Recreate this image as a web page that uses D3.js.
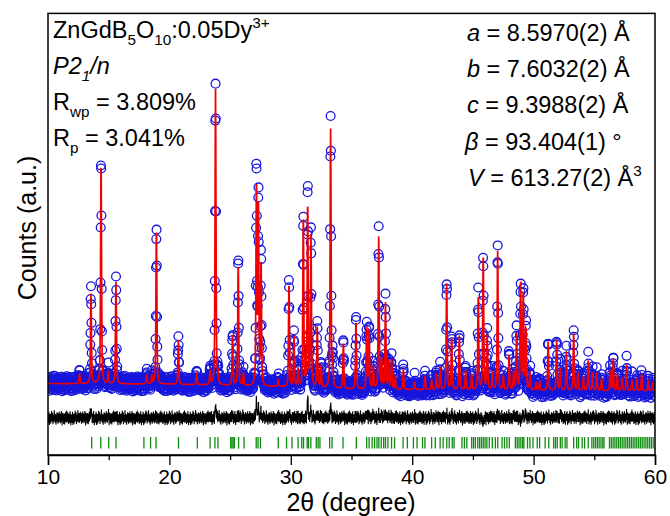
<!DOCTYPE html>
<html>
<head>
<meta charset="utf-8">
<script src="https://cdn.jsdelivr.net/npm/d3@7"></script>
<style>
    body { margin: 0; background: #fff; }
    svg { display: block; font-family: "Liberation Sans", Arial, sans-serif; }
</style>
</head>
<body>
<svg id="chart" width="670" height="516"></svg>
<script>
const peakPos = [12.6, 13.54, 14.37, 14.97, 15.6, 18.13, 18.55, 18.93, 20.74, 22.25, 23.35, 23.8, 24.0,
    25.2, 25.67, 26.1, 27.17, 27.33, 27.55, 28.97, 29.85, 30.26, 30.6, 31.03, 31.39, 31.66, 32.18, 32.5,
    33.28, 33.45, 34.33, 35.37, 36.25, 36.45, 36.8, 37.24, 37.5, 37.8, 38.05, 38.3, 38.6, 39.27, 40.2,
    41.05, 41.6, 42.0, 42.3, 42.84, 43.25, 43.88, 44.4, 44.9, 45.44, 45.85, 46.18, 46.6, 47.04, 47.5,
    47.98, 48.35, 48.6, 48.93, 49.15, 49.37, 49.7, 50.2, 50.5, 51.2, 51.9, 52.2, 52.7, 53.3, 53.65, 54.1,
    54.5, 54.85, 55.2, 55.6, 56.3, 56.56, 56.9, 57.3, 57.66, 58.1, 58.5, 58.9, 59.45, 59.8]
const peakObs = [300, 2425, 5625, 350, 2625, 250, 200, 3975, 1150, 325, 400, 7675, 300,
    1300, 3150, 350, 5475, 4750, 3250, 200, 2700, 1300, 500, 4250, 5125, 3925, 1600, 625,
    6825, 750, 1200, 1775, 1650, 1600, 625, 3900, 750, 2275, 750, 800, 375, 550, 250,
    400, 300, 450, 600, 2750, 1400, 1400, 525, 450, 2350, 3250, 1425, 500, 3625, 375,
    925, 500, 1475, 2675, 2525, 1650, 500, 225, 250, 1275, 1325, 625, 1025, 1475, 500, 375,
    800, 500, 475, 350, 550, 850, 450, 350, 700, 300, 350, 450, 300, 250]
const peakCalc = [250, 2250, 5600, 300, 2550, 225, 200, 3925, 1100, 300, 350, 7400, 250,
    1250, 3050, 300, 5050, 4525, 3100, 175, 2600, 1250, 450, 4300, 4600, 3750, 1500, 550,
    6475, 700, 1150, 1700, 1550, 1500, 550, 3800, 700, 2150, 700, 750, 350, 500, 200,
    350, 250, 400, 550, 2650, 1300, 1350, 500, 400, 2300, 3400, 1375, 450, 3475, 350,
    875, 450, 1400, 2725, 2450, 1550, 450, 200, 225, 1225, 1250, 550, 975, 1425, 450, 350,
    750, 450, 450, 325, 500, 800, 400, 325, 650, 275, 325, 425, 275, 225]

// background level along 2θ
const bgPos = [10, 20, 30, 35, 45, 60]
const bgCounts = [990, 975, 900, 850, 825, 800]

// Bragg reflection marks
const braggPos = [13.6, 14.35, 15.0, 15.6, 17.9, 18.45, 18.9, 20.75, 22.3, 23.35, 23.75, 24.0,
    25.05, 25.15, 25.25, 25.35, 25.7, 26.15, 27.15, 27.3, 27.5, 28.97, 29.65, 30.1, 30.6, 30.9,
    31.05, 31.35, 31.45, 31.65, 32.1, 32.25, 32.4, 33.2, 33.4, 34.3, 35.4, 36.25, 36.45, 36.7,
    36.9, 37.1, 37.25, 37.45, 37.65, 37.8, 38.0, 38.3, 38.55, 39.25, 39.6, 40.1, 40.4, 40.85,
    41.05, 41.6, 41.9, 42.3, 42.55, 42.85, 43.05, 43.3, 43.45, 44.1, 44.3, 44.5, 44.9, 45.05,
    45.2, 45.4, 45.55, 45.7, 45.85, 46.0, 46.15, 46.35, 46.6, 46.85, 47.05, 47.4, 47.6, 47.8,
    48.0, 48.5, 48.65, 48.8, 48.95, 49.1, 49.2, 49.5, 49.7, 49.95, 50.3, 50.5, 50.95, 51.25,
    51.65, 51.8, 51.95, 52.2, 52.35, 52.6, 52.75, 53.3, 53.55, 53.7, 54.0, 54.2, 54.5, 54.8,
    54.95, 55.1, 55.25, 55.4, 55.55, 55.7, 55.8, 56.25, 56.4, 56.55, 56.7, 56.85, 57.0, 57.15,
    57.3, 57.45, 57.6, 57.75, 57.9, 58.05, 58.2, 58.35, 58.5, 58.65, 58.8, 58.95, 59.1, 59.25,
    59.4, 59.55, 59.7, 59.85]

const noiseCounts = [-40, 85, -120, 30, 150, -60, -180, 20, 95, -15, 60, -140, 110, -30, -90, 175,
    -5, -70, 40, 130, -160, 10, 70, -110, 55, -20, 190, -85, -45, 100, -130, 25, 80, -175, 65, 5,
    -95, 140, -25, -65, 120, -150, 35, 90, -10, -115, 160, -50, 15, -80, 105, -135, 50, 0, -100,
    170, -35, 75, -190, 45, 125, -55, -20, 85, -145, 30, 115, -75, 10, -165, 95, 60, -40, 145,
    -105, 20, -60, 180, -120, 40, 5, -90, 135, -30, 70, -155, 55, 100, -70, 15, -125, 165, -15,
    45, -185, 80, -50]

const majorTicks = [10, 20, 30, 40, 50, 60]
const minorTicks = [15, 25, 35, 45, 55]

const step = 0.02, fwhm = 0.09, eta = 0.5
const diffOffset = 130, braggTop = -350, braggBottom = -640

const margin = { left: 48, right: 655, top: 13.4, bottom: 455 }
const svg = d3.select("#chart")

const x = d3.scaleLinear().domain([10, 60]).range([margin.left, margin.right])
const y = d3.scaleLinear().domain([-800, 10250]).range([margin.bottom, margin.top])
const background = d3.scaleLinear().domain(bgPos).range(bgCounts)

// pseudo-Voigt peaks on top of the background
const profile = function (t, heights) {
    let v = background(t)
    peakPos.forEach((p, k) => {
        const d = t - p
        if (Math.abs(d) > 2) return
        const q = 4 * d * d / (fwhm * fwhm)
        v += heights[k] * (eta / (1 + q) + (1 - eta) * Math.exp(-Math.LN2 * q))
    })
    return v
}

const points = d3.range(0, Math.round(50 / step) + 1).map(i => {
    const t = 10 + i * step
    const calc = profile(t, peakCalc)
    const obs = profile(t, peakObs) + noiseCounts[i % noiseCounts.length]
    return { t, obs, calc, diff: obs - calc + diffOffset }
})

svg.append("clipPath").attr("id", "plot-clip")
    .append("rect")
    .attr("x", margin.left).attr("y", margin.top)
    .attr("width", margin.right - margin.left).attr("height", margin.bottom - margin.top)

const plot = svg.append("g").attr("clip-path", "url(#plot-clip)")

// observed
plot.append("g")
    .selectAll("circle")
    .data(points)
    .join("circle")
    .attr("cx", d => x(d.t))
    .attr("cy", d => y(d.obs))
    .attr("r", 4.4)
    .attr("fill", "none")
    .attr("stroke", "#1616dc")
    .attr("stroke-width", 1.3)

// calculated
plot.append("path")
    .datum(points)
    .attr("fill", "none")
    .attr("stroke", "#f00000")
    .attr("stroke-width", 1.7)
    .attr("d", d3.line().x(d => x(d.t)).y(d => y(d.calc)))

// difference
plot.append("path")
    .datum(points)
    .attr("fill", "none")
    .attr("stroke", "#000")
    .attr("stroke-width", 1.1)
    .attr("d", d3.line().x(d => x(d.t)).y(d => y(d.diff)))

// Bragg positions
plot.append("g")
    .selectAll("line")
    .data(braggPos)
    .join("line")
    .attr("x1", d => x(d)).attr("x2", d => x(d))
    .attr("y1", y(braggTop)).attr("y2", y(braggBottom))
    .attr("stroke", "#108a10")
    .attr("stroke-width", 1.3)

// frame
svg.append("rect")
    .attr("x", margin.left).attr("y", margin.top)
    .attr("width", margin.right - margin.left).attr("height", margin.bottom - margin.top)
    .attr("fill", "none")
    .attr("stroke", "#000")
    .attr("stroke-width", 1.5)

// x axis
const xAxis = svg.append("g")
    .attr("transform", `translate(0,${margin.bottom})`)
    .call(d3.axisBottom(x).tickValues(majorTicks).tickSize(10).tickPadding(4).tickFormat(d3.format("d")))
xAxis.select(".domain").attr("stroke-width", 1.5)
xAxis.selectAll(".tick line").attr("stroke-width", 1.3)
xAxis.selectAll("text").attr("font-size", 21).attr("font-family", "Liberation Sans, Arial, sans-serif").attr("fill", "#000")

const minorAxis = svg.append("g")
    .attr("transform", `translate(0,${margin.bottom})`)
    .call(d3.axisBottom(x).tickValues(minorTicks).tickSize(5).tickFormat(""))
minorAxis.select(".domain").remove()
minorAxis.selectAll(".tick line").attr("stroke-width", 1.3)

svg.append("text")
    .attr("x", 351)
    .attr("y", 511)
    .attr("text-anchor", "middle")
    .attr("font-size", 25)
    .text("2θ (degree)")

svg.append("text")
    .attr("transform", "translate(36,228) rotate(-90)")
    .attr("text-anchor", "middle")
    .attr("font-size", 25)
    .text("Counts (a.u.)")

// text with sub/superscripts
const richText = function (px, py, parts, size) {
    const text = svg.append("text").attr("x", px).attr("y", py).attr("font-size", size)
    let shift = 0
    for (let part of parts) {
        const target = part.sub ? size * 0.3 : part.sup ? -size * 0.42 : 0
        text.append("tspan")
            .attr("dy", target - shift)
            .attr("font-size", part.sub || part.sup ? size * 0.65 : size)
            .attr("font-style", part.it ? "italic" : null)
            .text(part.t)
        shift = target
    }
}

richText(53, 38, [{ t: "ZnGdB" }, { t: "5", sub: true }, { t: "O" }, { t: "10", sub: true }, { t: ":0.05Dy" }, { t: "3+", sup: true }], 23.5)
richText(53, 74, [{ t: "P2", it: true }, { t: "1", sub: true, it: true }, { t: "/n", it: true }], 23.5)
richText(53, 110, [{ t: "R" }, { t: "wp", sub: true }, { t: " = 3.809%" }], 23.5)
richText(53, 146, [{ t: "R" }, { t: "p", sub: true }, { t: " = 3.041%" }], 23.5)

richText(467, 41, [{ t: "a", it: true }, { t: " = 8.5970(2) Å" }], 23.5)
richText(467, 77, [{ t: "b", it: true }, { t: " = 7.6032(2) Å" }], 23.5)
richText(467, 113, [{ t: "c", it: true }, { t: " = 9.3988(2) Å" }], 23.5)
richText(465, 150, [{ t: "β", it: true }, { t: " = 93.404(1) °" }], 23.5)
richText(468, 186, [{ t: "V", it: true }, { t: " = 613.27(2) Å" }, { t: "3", sup: true }], 23.5)
</script>
</body>
</html>
